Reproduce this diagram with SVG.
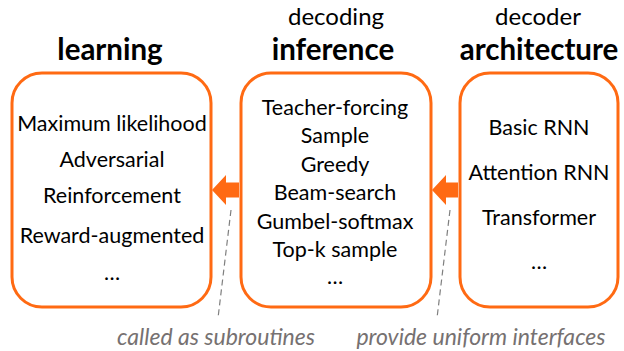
<svg xmlns="http://www.w3.org/2000/svg" width="624" height="351" viewBox="0 0 624 351">
<style>
.box{fill:#fff;stroke:#FF6A13;stroke-width:3}
.t{font-family:Lato,"Liberation Sans",sans-serif;font-size:21.5px;fill:#000;text-anchor:middle}
.h{font-family:Lato,"Liberation Sans",sans-serif;font-size:29.5px;font-weight:bold;fill:#000;text-anchor:middle}
.s{font-family:Lato,"Liberation Sans",sans-serif;font-size:24px;fill:#000;text-anchor:middle}
.n{font-family:Lato,"Liberation Sans",sans-serif;font-size:23px;font-style:italic;fill:#767171;text-anchor:middle}
.arr{fill:#FF6A13}
.dash{stroke:#7f7f7f;stroke-width:1.2;stroke-dasharray:6,4;fill:none}
</style>
<g id="learning">
<text class="h" x="110" y="60">learning</text>
<rect class="box" x="12" y="73" width="199" height="234" rx="30"/>
<text class="t" x="112" y="131">Maximum likelihood</text>
<text class="t" x="112" y="167">Adversarial</text>
<text class="t" x="112" y="203">Reinforcement</text>
<text class="t" x="112" y="243">Reward-augmented</text>
<text class="t" x="112" y="280">…</text>
</g>
<g id="inference">
<text class="s" x="336" y="25">decoding</text>
<text class="h" x="333" y="60">inference</text>
<rect class="box" x="241" y="73" width="190" height="234" rx="30"/>
<text class="t" x="335" y="115">Teacher-forcing</text>
<text class="t" x="335" y="143">Sample</text>
<text class="t" x="335" y="172">Greedy</text>
<text class="t" x="335" y="200">Beam-search</text>
<text class="t" x="335" y="229">Gumbel-softmax</text>
<text class="t" x="335" y="257">Top-k sample</text>
<text class="t" x="335" y="284">…</text>
</g>
<g id="architecture">
<text class="s" x="538" y="25">decoder</text>
<text class="h" x="539" y="60">architecture</text>
<rect class="box" x="460" y="73" width="158" height="234" rx="30"/>
<text class="t" x="539" y="135">Basic RNN</text>
<text class="t" x="539" y="180">Attention RNN</text>
<text class="t" x="539" y="225">Transformer</text>
<text class="t" x="539" y="269">…</text>
</g>
<g id="connectors">
<polygon class="arr" points="212,190 226,175 226,182.5 239,182.5 239,197.5 226,197.5 226,205"/>
<polygon class="arr" points="432,190 446,175 446,182.5 458,182.5 458,197.5 446,197.5 446,205"/>
<line class="dash" x1="231" y1="210" x2="218" y2="318"/>
<line class="dash" x1="450" y1="210" x2="437" y2="318"/>
</g>
<text class="n" x="216" y="345">called as subroutines</text>
<text class="n" x="481" y="345">provide uniform interfaces</text>
</svg>
